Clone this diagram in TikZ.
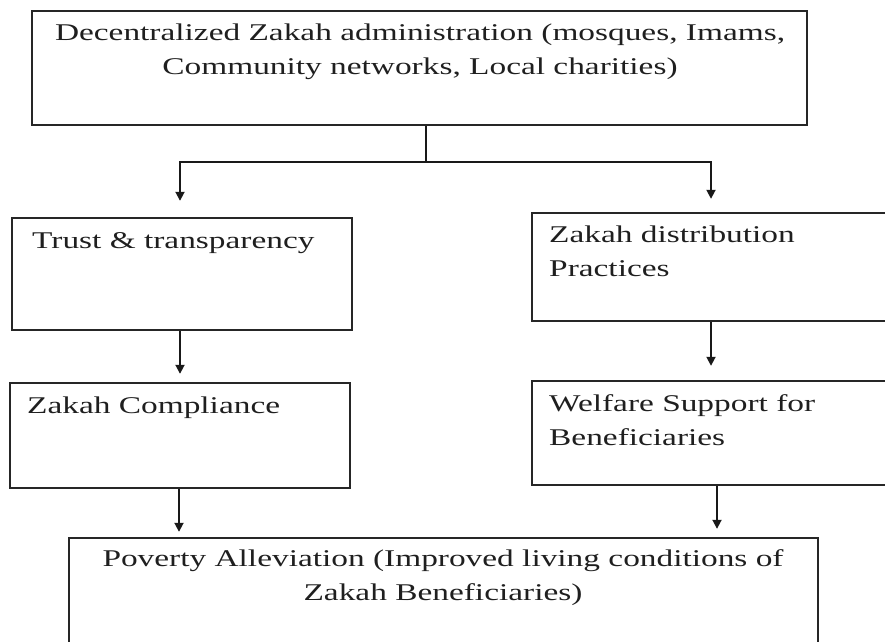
\documentclass[tikz,border=0pt]{standalone}
\usepackage{fontspec}
\setmainfont{Liberation Serif}
\usepackage{graphicx}
\usetikzlibrary{arrows.meta}
\newcommand{\sx}[1]{\scalebox{1.39}[1]{#1}}
\begin{document}
\begin{tikzpicture}[x=1pt,y=-1pt,
  box/.style={draw=black!85, line width=2.4pt, inner sep=0pt},
  txt/.style={font=\fontsize{24}{33.3}\selectfont, inner sep=0pt, text=black!88},
  ln/.style={draw=black!90, line width=1.8pt},
  arr/.style={draw=black!90, line width=1.8pt, -{Triangle[length=9pt,width=9pt]}}]
\useasboundingbox (0,0) rectangle (885,641);
\clip (0,0) rectangle (885,641);
% boxes
\node[box, minimum width=775pt, minimum height=114pt] (top) at (419.5,68) {};
\node[box, minimum width=340pt, minimum height=112pt] (tl) at (182,274) {};
\node[box, minimum width=368pt, minimum height=108pt] (tr) at (716,267) {};
\node[box, minimum width=340pt, minimum height=105pt] (bl) at (180,435.5) {};
\node[box, minimum width=368pt, minimum height=104pt] (br) at (716,433) {};
\node[box, minimum width=749pt, minimum height=107pt] (bot) at (443.5,591.5) {};
% texts
\node[txt, anchor=base, align=center] (ttop) at (420,74)
  {\sx{Decentralized Zakah administration (mosques, Imams,}\\\sx{Community networks, Local charities)}};
\node[txt, anchor=base west] (ttl) at (32,248) {\sx{Trust \& transparency}};
\node[txt, anchor=base west, align=left] (ttr) at (549,276)
  {\sx{Zakah distribution}\\\sx{Practices}};
\node[txt, anchor=base west] (tbl) at (27,413) {\sx{Zakah Compliance}};
\node[txt, anchor=base west, align=left] (tbr) at (549,445)
  {\sx{Welfare Support for}\\\sx{Beneficiaries}};
\node[txt, anchor=base, align=center] (tbot) at (443,600)
  {\sx{Poverty Alleviation (Improved living conditions of}\\\sx{Zakah Beneficiaries)}};
% connectors
\coordinate (j) at (426,162);
\coordinate (jl) at (180,162);
\coordinate (jr) at (711,162);
\coordinate (xl) at (179,0);
\coordinate (xr) at (717,0);
\draw[ln] (top.south -| j) -- (j);
\draw[arr, shorten >=16pt] (j) -- (jl) -- (jl |- tl.north);
\draw[arr, shorten >=13pt] (j) -- (jr) -- (jr |- tr.north);
\draw[arr, shorten >=8pt] (tl.south -| jl) -- (jl |- bl.north);
\draw[arr, shorten >=14pt] (tr.south -| jr) -- (jr |- br.north);
\draw[arr, shorten >=5pt] (bl.south -| xl) -- (xl |- bot.north);
\draw[arr, shorten >=8pt] (br.south -| xr) -- (xr |- bot.north);
\end{tikzpicture}
\end{document}
